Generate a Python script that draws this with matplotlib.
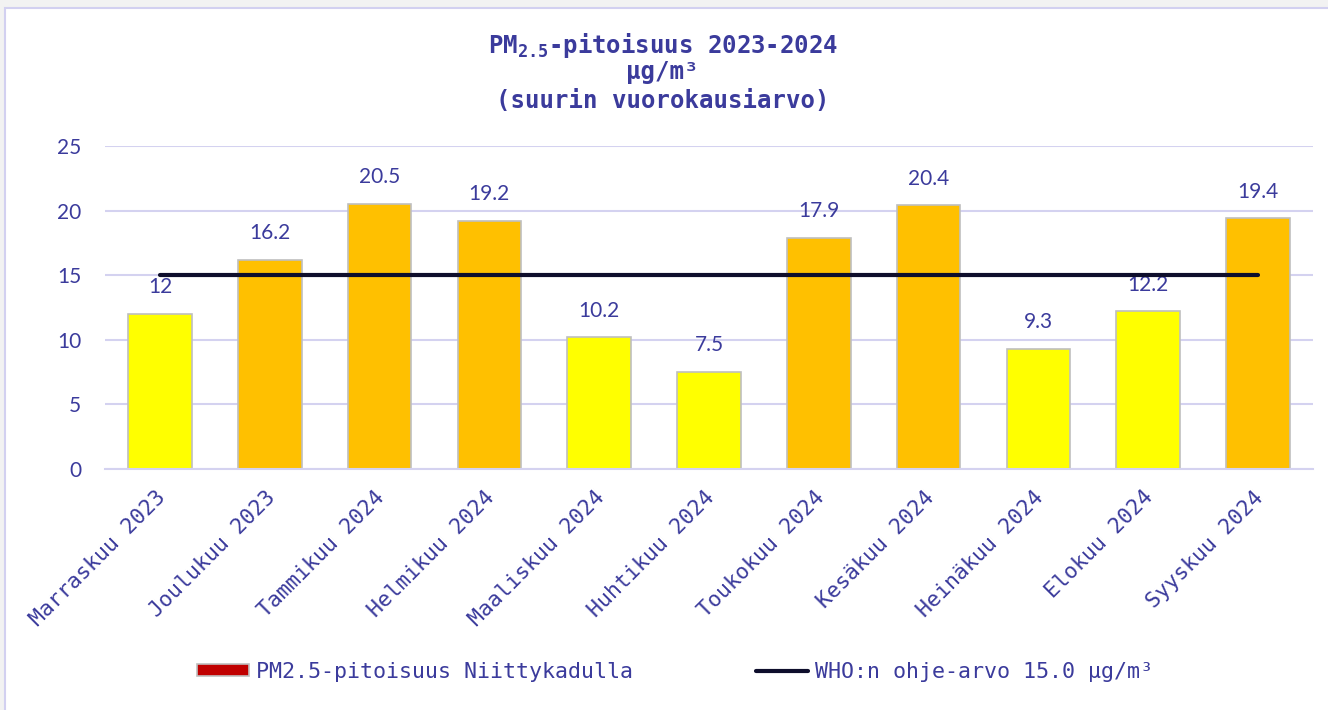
import matplotlib
matplotlib.use("Agg")
import matplotlib.pyplot as plt
from matplotlib.patches import Rectangle, Patch
from matplotlib.lines import Line2D
from matplotlib.transforms import ScaledTranslation
import numpy as np

# Data
months = ["Marraskuu 2023", "Joulukuu 2023", "Tammikuu 2024", "Helmikuu 2024",
          "Maaliskuu 2024", "Huhtikuu 2024", "Toukokuu 2024", "Kesäkuu 2024",
          "Heinäkuu 2024", "Elokuu 2024", "Syyskuu 2024"]
pm25 = [12, 16.2, 20.5, 19.2, 10.2, 7.5, 17.9, 20.4, 9.3, 12.2, 19.4]
who_limit = 15.0
yticks = [0, 5, 10, 15, 20, 25]

txt_color = "#3b3b9c"
grid_color = "#d4d2f0"
mono = "DejaVu Sans Mono"
sans = "Lato"

plt.rcParams["mathtext.fontset"] = "custom"
plt.rcParams["mathtext.rm"] = "DejaVu Sans Mono:bold"
plt.rcParams["mathtext.it"] = "DejaVu Sans Mono:bold"
plt.rcParams["mathtext.bf"] = "DejaVu Sans Mono:bold"

fig = plt.figure(figsize=(13.28, 7.10), dpi=100, facecolor="#f2f2f2")

# white chart area with lavender border
fig.patches.append(Rectangle((5 / 1328, -0.05), 1.1, 1 - 8 / 710 + 0.05,
                             transform=fig.transFigure, facecolor="white",
                             edgecolor="#d2d0f0", linewidth=1.5, zorder=-5))

ax = fig.add_axes([105 / 1328, 1 - 469 / 710, (1313 - 105) / 1328, (469 - 146) / 710])
ax.set_facecolor("none")
ax.set_zorder(1)

x = np.arange(len(months))
colors = ["#ffc000" if v > who_limit else "#ffff00" for v in pm25]
bars = ax.bar(x, pm25, width=0.58, color=colors, edgecolor="#bfbfbf",
              linewidth=1.2, zorder=2)

for xi, v in zip(x, pm25):
    ax.annotate(f"{v:g}", (xi, v), xytext=(0, 12), textcoords="offset points",
                ha="center", va="bottom", fontsize=15, family=sans,
                color=txt_color)

ax.plot(x, [who_limit] * len(x), color="#0e0e2c", linewidth=3,
        solid_capstyle="round", zorder=3)

ax.set_xlim(-0.5, len(months) - 0.5)
ax.set_ylim(0, 25)
ax.set_yticks(yticks)
ax.yaxis.grid(True, color=grid_color, linewidth=1.5, zorder=0)
ax.set_axisbelow(True)
for s in ["top", "right", "left"]:
    ax.spines[s].set_visible(False)
ax.spines["bottom"].set_color(grid_color)
ax.spines["bottom"].set_linewidth(1.5)
ax.tick_params(axis="both", length=0)
ax.tick_params(axis="y", pad=17, labelsize=15, labelcolor=txt_color)
for lab in ax.get_yticklabels():
    lab.set_family(sans)

ax.set_xticks(x)
ax.set_xticklabels(months, rotation=45, ha="right", va="top",
                   rotation_mode="anchor", family=mono, fontsize=15.5,
                   color=txt_color)
ax.tick_params(axis="x", pad=13)
shift = ScaledTranslation(-5 / 100, 0, fig.dpi_scale_trans)
for lab in ax.get_xticklabels():
    lab.set_transform(lab.get_transform() + shift)

# title
title_kw = dict(ha="center", va="center", family=mono, fontweight="bold",
                fontsize=17.3, color=txt_color)
fig.text(0.499, 1 - 45 / 710, "PM$_{2.5}$-pitoisuus 2023-2024", **title_kw)
fig.text(0.499, 1 - 72 / 710, "µg/m³", **title_kw)
fig.text(0.499, 1 - 101 / 710, "(suurin vuorokausiarvo)", **title_kw)

handles = [Patch(facecolor="#c00000", edgecolor="#bfbfbf", linewidth=1.2),
           Line2D([0], [0], color="#0e0e2c", linewidth=3, solid_capstyle="round")]
labels = ["PM2.5-pitoisuus Niittykadulla", "WHO:n ohje-arvo 15.0 µg/m³"]
leg = fig.legend(handles, labels, loc="center", bbox_to_anchor=(675 / 1328, 1 - 672 / 710),
                 ncol=2, frameon=False, handlelength=2.4, handleheight=0.5,
                 handletextpad=0.3, columnspacing=5.7,
                 prop={"family": mono, "size": 15.6})
for t in leg.get_texts():
    t.set_color(txt_color)

fig.savefig("out.png", dpi=100, facecolor=fig.get_facecolor())
